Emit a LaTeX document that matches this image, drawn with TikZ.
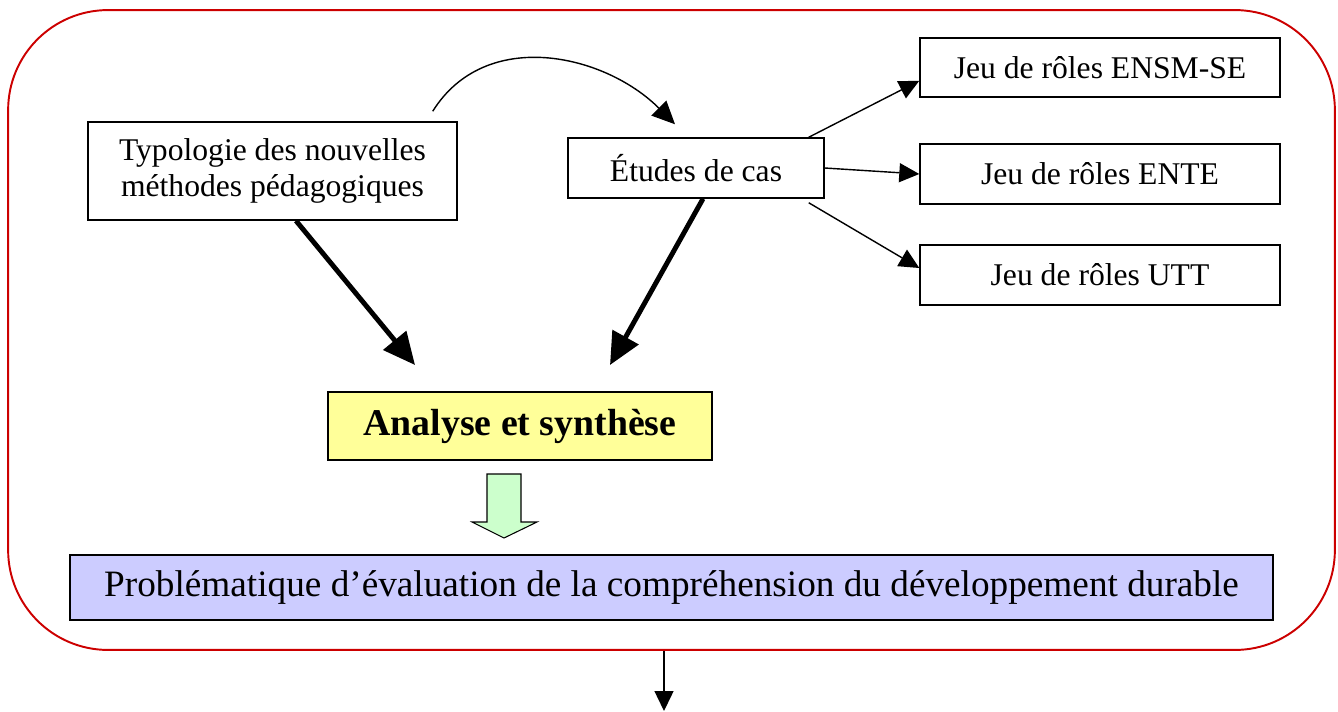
\documentclass[tikz,border=0pt]{standalone}
\usepackage{fontspec}
\setmainfont{Liberation Serif}
\usetikzlibrary{arrows.meta}
\definecolor{framered}{RGB}{204,0,0}
\definecolor{lightyellow}{RGB}{255,255,153}
\definecolor{lavender}{RGB}{204,204,255}
\definecolor{palegreen}{RGB}{204,255,204}

\begin{document}
\begin{tikzpicture}[x=0.02cm, y=-0.02cm,
    box/.style={draw, line width=0.85pt, inner sep=0pt, align=center, font=\fontsize{18}{20}\selectfont},
    thin/.style={-{Triangle[length=0.4cm, width=0.38cm]}, line width=0.8pt},
    thick/.style={-{Triangle[length=0.64cm, width=0.58cm]}, line width=2.8pt}]

    \useasboundingbox (0,0) rectangle (1338,711);

    % Outer frame
    \node[draw=framered, line width=1.1pt, rounded corners=2cm, minimum width=26.54cm, minimum height=12.8cm] (frame) at (671.5,330) {};

    % Boxes
    \node[box, minimum width=7.38cm, minimum height=1.96cm] (typo) at (272.5,171) {Typologie des nouvelles\\méthodes pédagogiques};
    \node[box, minimum width=5.12cm, minimum height=1.2cm] (etudes) at (696,168) {Études de cas};
    \node[box, minimum width=7.2cm, minimum height=1.18cm] (ensm) at (1100,67.5) {Jeu de rôles ENSM-SE};
    \node[box, minimum width=7.2cm, minimum height=1.2cm] (ente) at (1100,174) {Jeu de rôles ENTE};
    \node[box, minimum width=7.2cm, minimum height=1.2cm] (utt) at (1100,275) {Jeu de rôles UTT};
    \node[box, fill=lightyellow, minimum width=7.68cm, minimum height=1.36cm, font=\fontsize{21.5}{24}\selectfont\bfseries] (analyse) at (520,426) {Analyse et synthèse};
    \node[box, fill=lavender, minimum width=24.06cm, minimum height=1.3cm, font=\fontsize{21.2}{24}\selectfont] (prob) at (671.5,587.5) {Problématique d’évaluation de la compréhension du développement durable};

    % Curved arrow
    \draw[thin, -{Triangle[length=0.46cm, width=0.42cm]}] ([xshift=-0.5cm, yshift=0.2cm]typo.north east) to[out=58, in=135, looseness=1.05] ([xshift=-0.42cm, yshift=0.26cm]etudes.north);

    % Arrows to the role plays
    \draw[thin] ([xshift=-0.32cm]etudes.north east) -- ([yshift=0.34cm]ensm.south west);
    \draw[thin] (etudes.east) -- (ente.west);
    \draw[thin] ([xshift=-0.32cm, yshift=-0.08cm]etudes.south east) -- ([yshift=0.14cm]utt.west);

    % Thick arrows
    \coordinate (a1) at (415,365);
    \coordinate (a2) at (610,365);
    \draw[thick] ([xshift=0.47cm]typo.south) -- (a1);
    \draw[thick] ([xshift=0.14cm]etudes.south) -- (a2);

    % Block arrow
    \draw[fill=palegreen, line width=0.6pt] (487,474) -- (521,474) -- (521,522) -- (537,522) -- (504,538) -- (472,522) -- (487,522) -- cycle;

    % Arrow out of the frame
    \coordinate (out) at (664,711);
    \draw[thin] (out |- frame.south) -- (out);

\end{tikzpicture}
\end{document}
